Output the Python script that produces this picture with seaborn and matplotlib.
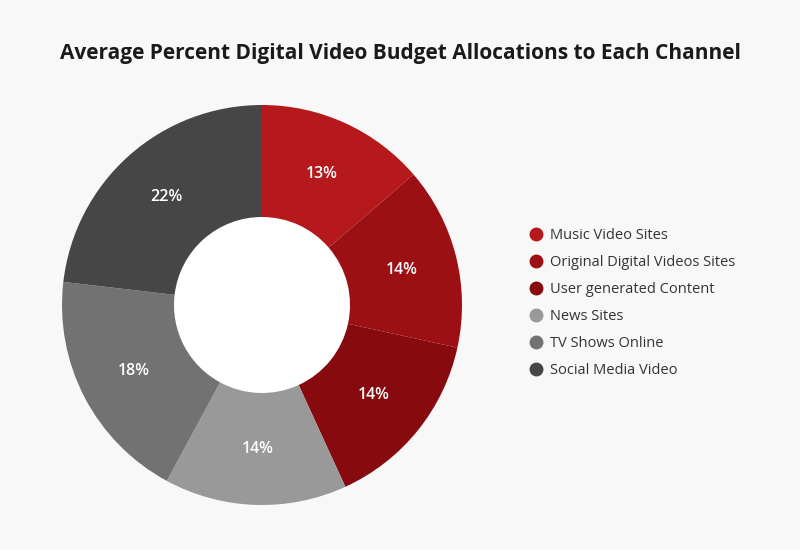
import matplotlib
matplotlib.use("Agg")
import matplotlib.pyplot as plt
from matplotlib.lines import Line2D
import seaborn as sns

channels = ["Music Video Sites", "Original Digital Videos Sites", "User generated Content",
            "News Sites", "TV Shows Online", "Social Media Video"]
shares = [13, 14, 14, 14, 18, 22]
colors = ["#b5191c", "#9c1014", "#860a0e", "#999999", "#727272", "#464646"]

sns.set_theme(style="white")
plt.rcParams["font.family"] = ["Open Sans", "DejaVu Sans"]

bg = "#f8f8f8"
fig = plt.figure(figsize=(8, 5.5), dpi=100, facecolor=bg)
ax = fig.add_axes([62 / 800, 45 / 550, 400 / 800, 400 / 550])
ax.set_facecolor(bg)

pct_labels = [f"{v}%" for v in shares]
wedges, texts = ax.pie(shares, colors=colors, startangle=90, counterclock=False,
                       labels=pct_labels, labeldistance=0.72,
                       wedgeprops=dict(width=0.56, linewidth=0),
                       textprops=dict(color="white", fontsize=11.5, fontweight="semibold"))
for t in texts:
    t.set_ha("center")
    t.set_va("center")
ax.add_patch(plt.Circle((0, 0), 0.44, color="white", zorder=0))
ax.set_xlim(-1, 1)
ax.set_ylim(-1, 1)
ax.set_aspect("equal")
ax.axis("off")

fig.text(0.5, 1 - 53 / 550, "Average Percent Digital Video Budget Allocations to Each Channel",
         ha="center", va="center", fontsize=15, fontweight="bold", color="#1a1a1a")

handles = [Line2D([0], [0], marker="o", linestyle="", markersize=9,
                  markerfacecolor=c, markeredgecolor=c) for c in colors]
fig.legend(handles, channels, loc="upper left", bbox_to_anchor=(527 / 800, 1 - 228 / 550),
           frameon=False, fontsize=10.5, labelcolor="#333333", handletextpad=0.35,
           labelspacing=0.82, handlelength=1.2, borderpad=0, borderaxespad=0)

fig.savefig("out.png", dpi=100, facecolor=bg)
